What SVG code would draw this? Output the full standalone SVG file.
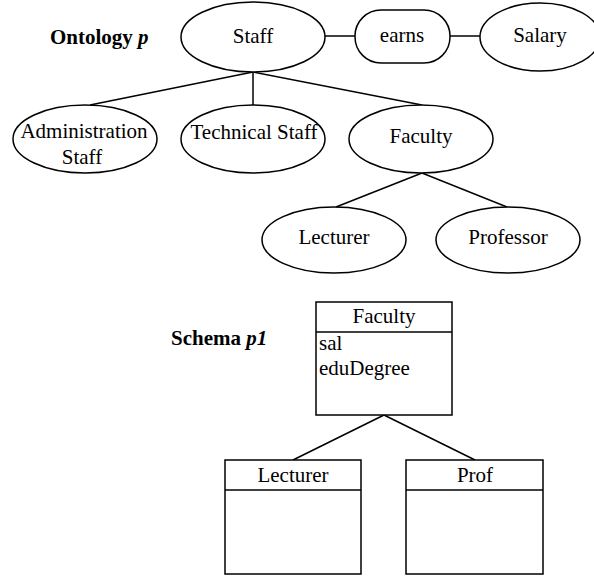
<svg xmlns="http://www.w3.org/2000/svg" width="594" height="576" viewBox="0 0 594 576">
<style>
  .shape { fill: #fff; stroke: #000; stroke-width: 1.5; }
  .conn line { stroke: #000; stroke-width: 1.5; }
  .div { stroke: #000; stroke-width: 1.5; }
  text { font-size: 21px; fill: #000; }
  .c { text-anchor: middle; }
  .b { font-weight: bold; }
</style>
<rect width="594" height="576" fill="#fff"/>
<g id="connectors" class="conn">
  <line x1="325" y1="36" x2="355" y2="36"/>
  <line x1="450" y1="36" x2="480" y2="36"/>
  <line x1="253" y1="72" x2="90" y2="105"/>
  <line x1="253" y1="72" x2="253" y2="105"/>
  <line x1="253" y1="72" x2="422" y2="105"/>
  <line x1="422" y1="173" x2="336" y2="207"/>
  <line x1="422" y1="173" x2="507" y2="207"/>
  <line x1="384" y1="415" x2="293" y2="460"/>
  <line x1="384" y1="415" x2="475" y2="460"/>
</g>
<g font-family="'Liberation Serif', 'Times New Roman', Times, serif">
<g id="label-ontology">
  <text x="50" y="44" class="b">Ontology <tspan font-style="italic">p</tspan></text>
</g>
<g id="staff">
  <ellipse class="shape" cx="253" cy="37" rx="72" ry="35"/>
  <text x="253" y="43" class="c">Staff</text>
</g>
<g id="earns">
  <rect class="shape" x="355" y="10" width="95" height="53" rx="26" ry="26"/>
  <text x="402" y="42" class="c">earns</text>
</g>
<g id="salary">
  <ellipse class="shape" cx="540" cy="37" rx="60" ry="34"/>
  <text x="540" y="42" class="c">Salary</text>
</g>
<g id="admin-staff">
  <ellipse class="shape" cx="85" cy="139" rx="72" ry="34"/>
  <text x="84" y="138" class="c">Administration</text>
  <text x="82" y="164" class="c">Staff</text>
</g>
<g id="technical-staff">
  <ellipse class="shape" cx="253" cy="139" rx="72" ry="34"/>
  <text x="254" y="139" class="c">Technical Staff</text>
</g>
<g id="faculty">
  <ellipse class="shape" cx="421" cy="139" rx="72" ry="34"/>
  <text x="421" y="143" class="c">Faculty</text>
</g>
<g id="lecturer">
  <ellipse class="shape" cx="334" cy="240" rx="72" ry="33"/>
  <text x="334" y="244" class="c">Lecturer</text>
</g>
<g id="professor">
  <ellipse class="shape" cx="508" cy="240" rx="72" ry="33"/>
  <text x="508" y="244" class="c">Professor</text>
</g>
<g id="label-schema">
  <text x="171" y="345" class="b">Schema <tspan font-style="italic">p1</tspan></text>
</g>
<g id="faculty-class">
  <rect class="shape" x="316" y="302" width="136" height="113"/>
  <line class="div" x1="316" y1="332" x2="452" y2="332"/>
  <text x="384" y="323" class="c">Faculty</text>
  <text x="319" y="350">sal</text>
  <text x="319" y="375">eduDegree</text>
</g>
<g id="lecturer-class">
  <rect class="shape" x="225" y="460" width="136" height="114"/>
  <line class="div" x1="225" y1="490" x2="361" y2="490"/>
  <text x="293" y="482" class="c">Lecturer</text>
</g>
<g id="prof-class">
  <rect class="shape" x="406" y="460" width="137" height="114"/>
  <line class="div" x1="406" y1="490" x2="543" y2="490"/>
  <text x="475" y="482" class="c">Prof</text>
</g>
</g>
</svg>
